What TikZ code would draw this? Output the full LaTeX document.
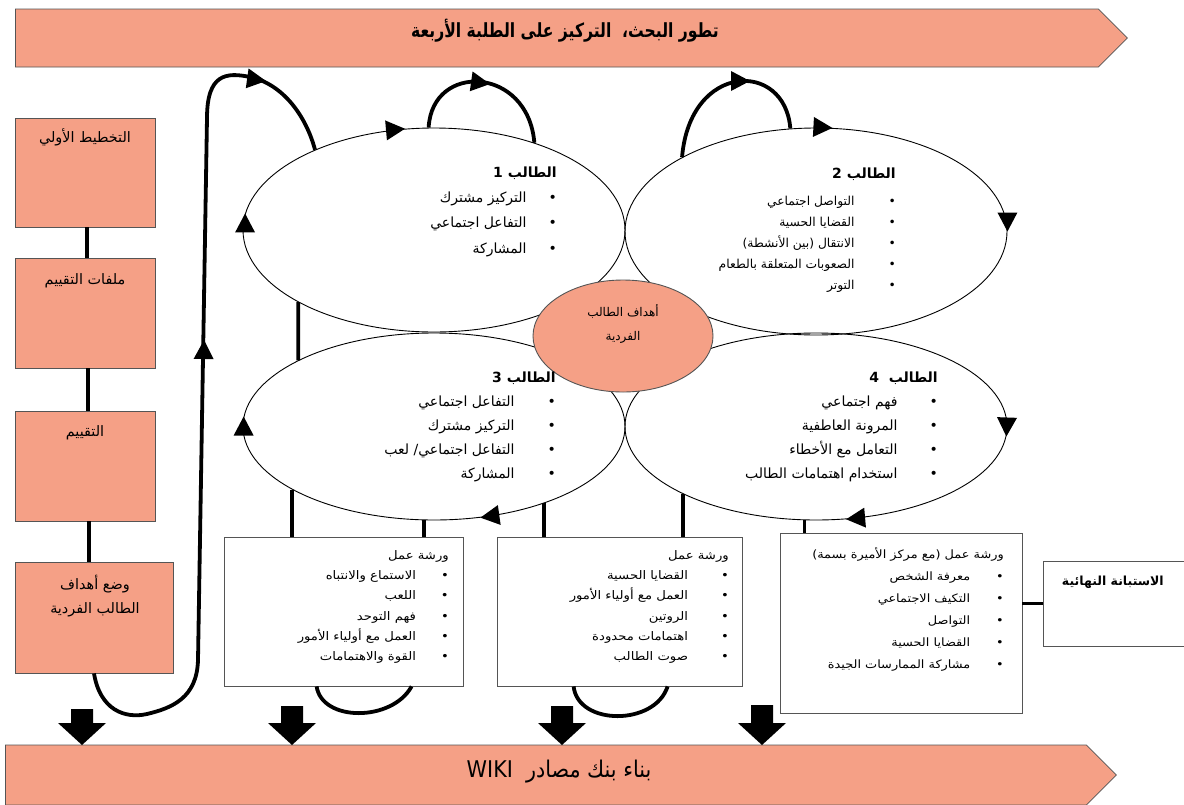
\documentclass[tikz,border=0pt]{standalone}
\usepackage{fontspec}
\usetikzlibrary{shapes.geometric,shapes.symbols,calc,arrows.meta}
\TeXXeTstate=1
\newfontfamily\ar[Script=Arabic]{DejaVu Sans}
\newfontfamily\arn[Script=Arabic,FakeStretch=0.8]{DejaVu Sans}
\newfontfamily\arm[Script=Arabic,FakeStretch=0.9]{DejaVu Sans}
\newfontfamily\arw[Script=Arabic,FakeStretch=1.12]{DejaVu Sans}
\definecolor{salmon}{RGB}{245,160,134}
\definecolor{edgegray}{RGB}{85,85,85}
\newcommand\RL[1]{\beginR #1\endR}
\newcommand\amark[2]{\fill[shift={#1},rotate=#2] (0,0) -- (-19,-10) -- (-19,10) -- cycle;}
\newcommand\darrow[2]{\fill (#1-11,#2) -- (#1+11,#2) -- (#1+11,723) -- (#1+24,723) -- (#1,745) -- (#1-24,723) -- (#1-11,723) -- cycle;}
\begin{document}
\begin{tikzpicture}[x=1pt,y=-1pt,
  ell/.style={shape=ellipse,draw=black,line width=0.9pt,inner sep=0pt},
  thk/.style={line width=3.8pt},
  lbox/.style={draw=edgegray,line width=0.8pt,fill=salmon,inner sep=0pt},
  wbox/.style={draw=edgegray,line width=0.8pt,fill=white,inner sep=0pt},
  banner/.style={shape=signal,signal to=east,fill=salmon,draw=edgegray,line width=0.8pt,inner sep=0pt,anchor=west},
  lbl/.style={inner sep=0pt},
  list/.style={inner sep=0pt,align=right,anchor=north east},
]
\useasboundingbox (0,0) rectangle (1184,804);
\fill[white] (0,0) rectangle (1184,804);

% banners
\node[banner,minimum width=1112pt,minimum height=58pt] (topbar) at (15,38) {};
\node[lbl,font=\arn\bfseries\fontsize{19.5}{22}\selectfont] (toptext) at (565,31) {\RL{تطور البحث،\ \ التركيز على الطلبة الأربعة}};
\node[banner,minimum width=1111pt,minimum height=60pt] (botbar) at (5,775) {};
\node[lbl,font=\arm\fontsize{23}{26}\selectfont] (bottext) at (559,772) {\RL{بناء بنك مصادر\ \ WIKI}};

% left boxes
\node[lbox,minimum width=140pt,minimum height=109pt] (b1) at (85,172.5) {};
\node[lbox,minimum width=140pt,minimum height=110pt] (b2) at (85,313) {};
\node[lbox,minimum width=140pt,minimum height=110pt] (b3) at (85,466) {};
\node[lbox,minimum width=158pt,minimum height=111pt] (b4) at (94,617.5) {};
\draw[thk] ([xshift=2pt]b1.south) -- ([xshift=2pt]b2.north);
\draw[thk] ([xshift=3pt]b2.south) -- ([xshift=3pt]b3.north);
\draw[thk] ([xshift=4pt]b3.south) -- ([xshift=-5pt]b4.north);
\node[lbl,font=\ar\fontsize{14.4}{24}\selectfont] (t1) at (85,137) {\RL{التخطيط الأولي}};
\node[lbl,font=\ar\fontsize{14.4}{24}\selectfont] (t2) at (85,281) {\RL{ملفات التقييم}};
\node[lbl,font=\ar\fontsize{14.4}{24}\selectfont] (t3) at (85,433) {\RL{التقييم}};
\node[lbl,align=center,font=\ar\fontsize{14.4}{24.5}\selectfont] (t4) at (95,596) {\RL{وضع أهداف}\\\RL{الطالب الفردية}};

% ellipses
\node[ell,minimum width=382pt,minimum height=204pt] (e1) at (434,230) {};
\node[ell,minimum width=382pt,minimum height=207pt] (e2) at (816,231.5) {};
\node[ell,minimum width=382pt,minimum height=187pt] (e3) at (434,426.5) {};
\node[ell,minimum width=382pt,minimum height=187pt] (e4) at (816,426.5) {};

% workshop boxes
\node[wbox,minimum width=239pt,minimum height=149pt] (wa) at (343.5,611.5) {};
\node[wbox,minimum width=245pt,minimum height=149pt] (wb) at (619.5,611.5) {};
\node[wbox,minimum width=242pt,minimum height=180pt] (wc) at (901,623) {};
\node[wbox,minimum width=147pt,minimum height=85pt] (wd) at (1116.5,603.5) {};

% thick connectors
\draw[thk] (b4.south) .. controls (100,710) and (125,719) .. (147,714)
  .. controls (172,708) and (197,698) .. (198,660) -- (207,118)
  .. controls (207,74) and (226,72) .. (250,77)
  .. controls (283,84) and (306,116) .. (e1.146);
\draw[thk] (e1.93) .. controls (432,62) and (528,66) .. (e1.41);
\draw[thk] (e2.151) .. controls (690,62) and (785,60) .. (e2.104);
\draw[thk] (e1.208) -- (e3.154);
\draw[thk] (e3.204) -- (e3.204 |- wa.north);
\draw[thk] (e3.264) -- (e3.264 |- wa.north);
\draw[thk] (e3.325) -- (e3.325 |- wb.north);
\draw[thk] (e4.207) -- (e4.207 |- wb.north);
\draw[thk] (e4.263) -- (e4.263 |- wc.north);
\draw[thk] ($(wa.south west)+(93,0)$) .. controls (322,722) and (392,722) .. ($(wa.south west)+(188,0)$);
\draw[thk] ($(wb.south west)+(77,0)$) .. controls (578,726) and (655,726) .. ($(wb.south west)+(171,0)$);
\draw[thk] (wc.east |- wd.west) -- (wd.west);

% centre ellipse
\node[ell,fill=salmon,draw=edgegray,minimum width=180pt,minimum height=112pt] (ce) at (623,336) {};
\node[lbl,align=center,font=\ar\fontsize{12}{24}\selectfont] (cet) at (623,324) {\RL{أهداف الطالب}\\\RL{الفردية}};

% arrow marks
\amark{(e1.175)}{90}
\amark{(e3.177)}{90}
\amark{(e2.east)}{-90}
\amark{(e4.357)}{-92}
\amark{(e3.297)}{188}
\amark{(e4.288)}{185}
\amark{(e1.106)}{5}
\amark{(e2.81)}{-3}
\amark{(204,340)}{89}
\amark{(266,81)}{-8}
\amark{(490,84)}{-8}
\amark{(750,81)}{0}

% ellipse texts
\node[list,font=\ar\fontsize{14}{25.3}\selectfont] (e1t) at (557,166.5) {\RL{\textbf{الطالب 1}}\\
\RL{•\hspace{22pt}التركيز مشترك}\\
\RL{•\hspace{22pt}التفاعل اجتماعي}\\
\RL{•\hspace{22pt}المشاركة}};
\node[list,font=\ar\fontsize{12.3}{21}\selectfont] (e2t) at (896,167.5) {\RL{\fontsize{14}{21}\selectfont\textbf{الطالب 2}}\\[6pt]
\RL{•\hspace{34pt}التواصل اجتماعي}\\
\RL{•\hspace{34pt}القضايا الحسية}\\
\RL{•\hspace{34pt}الانتقال (بين الأنشطة)}\\
\RL{•\hspace{34pt}الصعوبات المتعلقة بالطعام}\\
\RL{•\hspace{34pt}التوتر}};
\node[list,font=\ar\fontsize{14}{24}\selectfont] (e3t) at (556,371.5) {\RL{\textbf{الطالب 3}}\\
\RL{•\hspace{33pt}التفاعل اجتماعي}\\
\RL{•\hspace{33pt}التركيز مشترك}\\
\RL{•\hspace{33pt}التفاعل اجتماعي/ لعب}\\
\RL{•\hspace{33pt}المشاركة}};
\node[list,font=\ar\fontsize{14}{24}\selectfont] (e4t) at (938,371.5) {\RL{\textbf{الطالب\ \ 4}}\\
\RL{•\hspace{32pt}فهم اجتماعي}\\
\RL{•\hspace{32pt}المرونة العاطفية}\\
\RL{•\hspace{32pt}التعامل مع الأخطاء}\\
\RL{•\hspace{32pt}استخدام اهتمامات الطالب}};

% workshop texts
\node[list,font=\arw\fontsize{11.8}{20.3}\selectfont] (wat) at (449,550) {\RL{ورشة عمل}\\
\RL{•\hspace{25pt}الاستماع والانتباه}\\
\RL{•\hspace{25pt}اللعب}\\
\RL{•\hspace{25pt}فهم التوحد}\\
\RL{•\hspace{25pt}العمل مع أولياء الأمور}\\
\RL{•\hspace{25pt}القوة والاهتمامات}};
\node[list,font=\arw\fontsize{11.8}{20.3}\selectfont] (wbt) at (729,550) {\RL{ورشة عمل}\\
\RL{•\hspace{33pt}القضايا الحسية}\\
\RL{•\hspace{33pt}العمل مع أولياء الأمور}\\
\RL{•\hspace{33pt}الروتين}\\
\RL{•\hspace{33pt}اهتمامات محدودة}\\
\RL{•\hspace{33pt}صوت الطالب}};
\node[list,font=\arw\fontsize{11.5}{22}\selectfont] (wct) at (1004,547.5) {\RL{ورشة عمل (مع مركز الأميرة بسمة)}\\
\RL{•\hspace{26pt}معرفة الشخص}\\
\RL{•\hspace{26pt}التكيف الاجتماعي}\\
\RL{•\hspace{26pt}التواصل}\\
\RL{•\hspace{26pt}القضايا الحسية}\\
\RL{•\hspace{26pt}مشاركة الممارسات الجيدة}};
\node[lbl,anchor=east,font=\ar\bfseries\fontsize{12.5}{14}\selectfont] (wdt) at (1164,582) {\RL{الاستبانة النهائية}};

% block arrows
\darrow{82}{709}
\darrow{292}{706}
\darrow{562}{706}
\darrow{762}{705}
\end{tikzpicture}
\end{document}
